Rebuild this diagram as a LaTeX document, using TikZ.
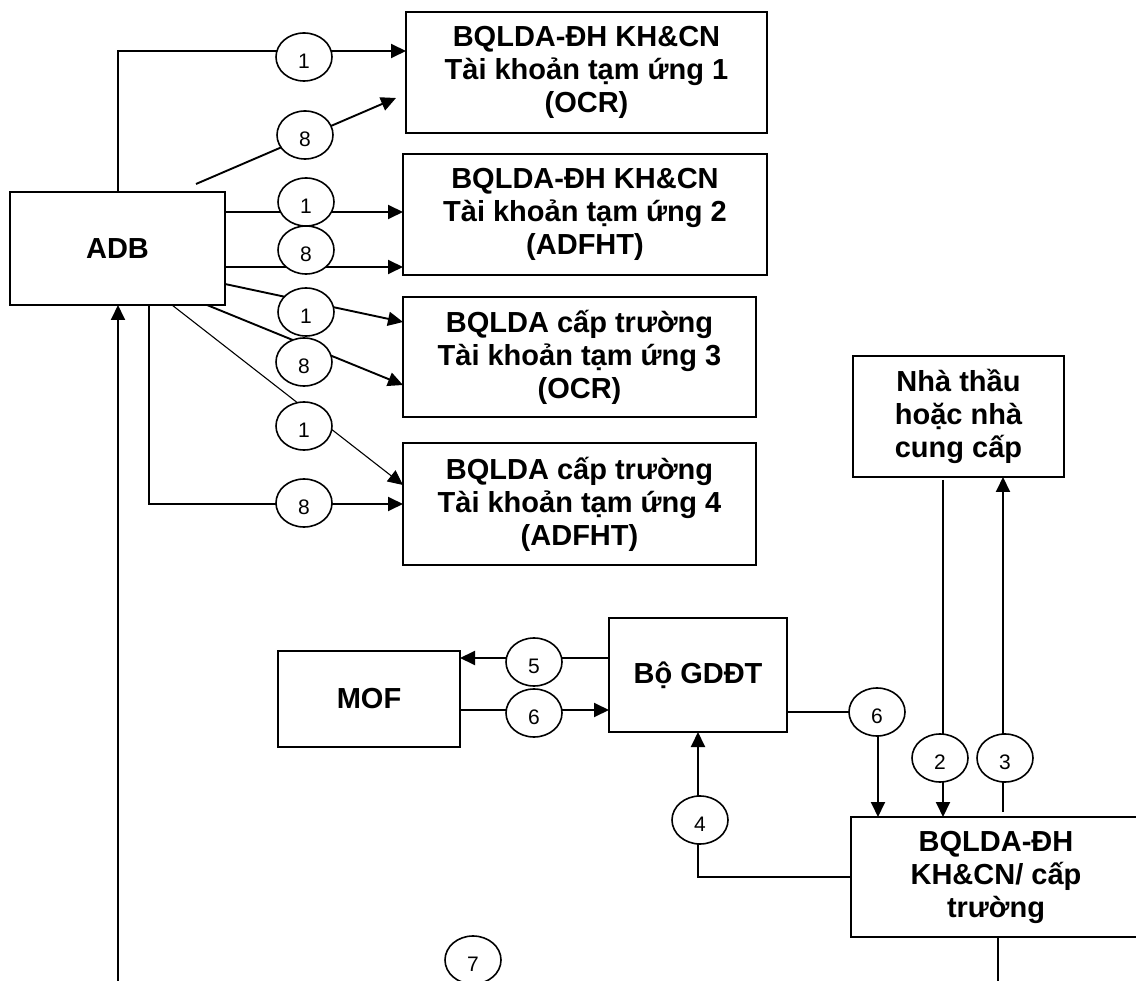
\documentclass[tikz,border=0pt]{standalone}
\usepackage{fontspec}
\setmainfont{Liberation Sans}
\usetikzlibrary{arrows.meta,shapes.geometric,calc}
\begin{document}
\begin{tikzpicture}[x=1pt,y=-1pt,
  box/.style={draw,line width=2pt,rectangle,inner sep=0pt,outer sep=0pt,align=center,
    font=\fontsize{29}{33}\selectfont\bfseries},
  conn/.style={line width=1.9pt},
  thinconn/.style={line width=1.1pt},
  arr/.style={-{Triangle[length=15pt,width=14pt]}},
  num/.style={draw,ellipse,line width=1.6pt,fill=white,inner sep=0pt,
    minimum width=56pt,minimum height=48pt,font=\fontsize{21}{21}\selectfont,
    text height=23pt,text depth=0pt}]
\useasboundingbox (0,0) rectangle (1136,981);
\clip (0,0) rectangle (1136,981);
% boxes
\node[box,minimum width=215pt,minimum height=113pt] (adb) at (117.5,248.5) {ADB};
\node[box,minimum width=361pt,minimum height=121pt] (b1) at (586.5,72.5) {BQLDA-ĐH KH\&CN\\Tài khoản tạm ứng 1\\(OCR)};
\node[box,minimum width=364pt,minimum height=121pt] (b2) at (585,214.5) {BQLDA-ĐH KH\&CN\\Tài khoản tạm ứng 2\\(ADFHT)};
\node[box,minimum width=353pt,minimum height=120pt] (b3) at (579.5,357) {BQLDA cấp trường\\Tài khoản tạm ứng 3\\(OCR)};
\node[box,minimum width=353pt,minimum height=122pt] (b4) at (579.5,504) {BQLDA cấp trường\\Tài khoản tạm ứng 4\\(ADFHT)};
\node[box,minimum width=211pt,minimum height=121pt] (nt) at (958.5,416.5) {Nhà thầu\\hoặc nhà\\cung cấp};
\node[box,minimum width=178pt,minimum height=114pt] (gd) at (698,675) {Bộ GDĐT};
\node[box,minimum width=182pt,minimum height=96pt] (mof) at (369,699) {MOF};
\node[box,minimum width=290pt,minimum height=120pt] (bq) at (996,877) {BQLDA-ĐH\\KH\&CN/ cấp\\trường};
% helper coordinates
\coordinate (xa) at (118,0);
\coordinate (xb) at (149,0);
\coordinate (xc) at (172,0);
\coordinate (xd) at (207,0);
\coordinate (y1) at (0,51);
\coordinate (y2) at (0,212);
\coordinate (y3) at (0,267);
\coordinate (y8) at (0,504);
\coordinate (s8) at (196,184);
\coordinate (t8) at (396,98);
\coordinate (bot) at (118,990);
\coordinate (bot2) at (998,990);
\coordinate (x6) at (878,0);
\coordinate (x4) at (698,0);
\coordinate (x2) at (943,0);
\coordinate (x3) at (1003,0);
\coordinate (s3) at (1003,812);
\coordinate (s2) at (943,480);
% connectors ADB -> accounts
\draw[conn,arr] (adb.north -| xa) |- (b1.west |- y1);
\draw[conn,arr] (s8) -- (t8);
\draw[conn,arr] (adb.east |- y2) -- (b2.west |- y2);
\draw[conn,arr] (adb.east |- y3) -- (b2.west |- y3);
\draw[conn,arr] ($(adb.north east)+(0,92)$) -- ($(b3.north west)+(0,25)$);
\draw[conn,arr] (adb.south -| xd) -- ($(b3.north west)+(0,88)$);
\draw[thinconn,arr] (adb.south -| xc) -- ($(b4.north west)+(0,42)$);
\draw[conn,arr] (adb.south -| xb) |- (b4.west |- y8);
\draw[conn,arr] (bot) -- (adb.south -| xa);
% lower part
\draw[conn,arr] ($(gd.north west)+(0,40)$) -- ($(mof.north east)+(0,7)$);
\draw[conn,arr] ($(mof.north east)+(0,59)$) -- ($(gd.north west)+(0,92)$);
\draw[conn,arr] ($(gd.north east)+(0,94)$) -| (bq.north -| x6);
\draw[conn,arr] (bq.west) -| (gd.south -| x4);
\draw[conn,arr] (s2) -- (bq.north -| x2);
\draw[conn,arr] (s3) -- (nt.south -| x3);
\draw[conn] (bq.south -| bot2) -- (bot2);
% number circles
\node[num] (c1a) at (304,57) {1};
\node[num] (c8a) at (305,135) {8};
\node[num] (c1b) at (306,202) {1};
\node[num] (c8b) at (306,250) {8};
\node[num] (c1c) at (306,312) {1};
\node[num] (c8c) at (304,362) {8};
\node[num] (c1d) at (304,426) {1};
\node[num] (c8d) at (304,503) {8};
\node[num] (c5) at (534,662) {5};
\node[num] (c6a) at (534,713) {6};
\node[num] (c6b) at (877,712) {6};
\node[num] (c4) at (700,820) {4};
\node[num] (c2) at (940,758) {2};
\node[num] (c3) at (1005,758) {3};
\node[num] (c7) at (473,960) {7};
\end{tikzpicture}
\end{document}
